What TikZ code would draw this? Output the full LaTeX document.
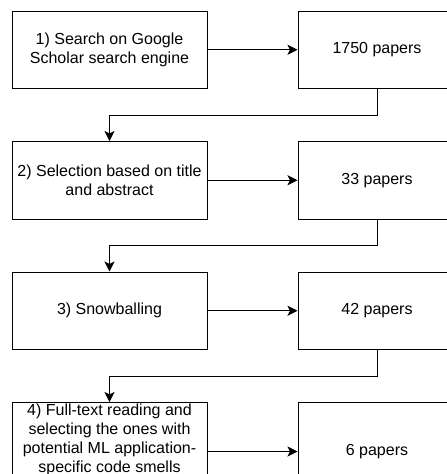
\documentclass[tikz,border=0pt]{standalone}
\usepackage{fontspec}
\setmainfont{Liberation Sans}
\usetikzlibrary{positioning,arrows.meta}

\begin{document}
\begin{tikzpicture}[node distance=52pt and 90pt,
    stepbox/.style={rectangle, draw, line width=1pt, minimum width=195pt, minimum height=77.5pt, inner sep=1pt, align=center, font=\fontsize{16}{19.2}\selectfont},
    resultbox/.style={rectangle, draw, line width=1pt, minimum width=158pt, minimum height=77.5pt, align=center, font=\fontsize{16}{19.2}\selectfont},
    flow/.style={-{Stealth[length=10pt,width=10pt,inset=2.5pt]}, line width=1pt}]
    \useasboundingbox (0,0) rectangle (447pt,-474pt);

    \node (search) [stepbox] at (109.5pt,-49.75pt) {1) Search on Google\\Scholar search engine};
    \node (found) [resultbox, right=of search] {1750 papers};
    \node (select) [stepbox, below=of search] {2) Selection based on title\\and abstract};
    \node (kept) [resultbox, right=of select] {33 papers};
    \node (snowball) [stepbox, below=of select] {3) Snowballing};
    \node (grown) [resultbox, right=of snowball] {42 papers};
    \node (fulltext) [stepbox, below=of snowball, minimum height=75.5pt, font=\fontsize{16}{19}\selectfont] {4) Full-text reading and\\selecting the ones with\\potential ML application-\\specific code smells};
    \node (final) [resultbox, below=of grown, minimum height=98pt] {6 papers};

    \draw [flow] (search) -- (found);
    \draw [flow] (found.south) -- ++(0,-26pt) -| (select.north);
    \draw [flow] (select) -- (kept);
    \draw [flow] (kept.south) -- ++(0,-26pt) -| (snowball.north);
    \draw [flow] (snowball) -- (grown);
    \draw [flow] (grown.south) -- ++(0,-26pt) -| (fulltext.north);
    \draw [flow] (fulltext.east |- final.west) -- (final.west);
\end{tikzpicture}
\end{document}
